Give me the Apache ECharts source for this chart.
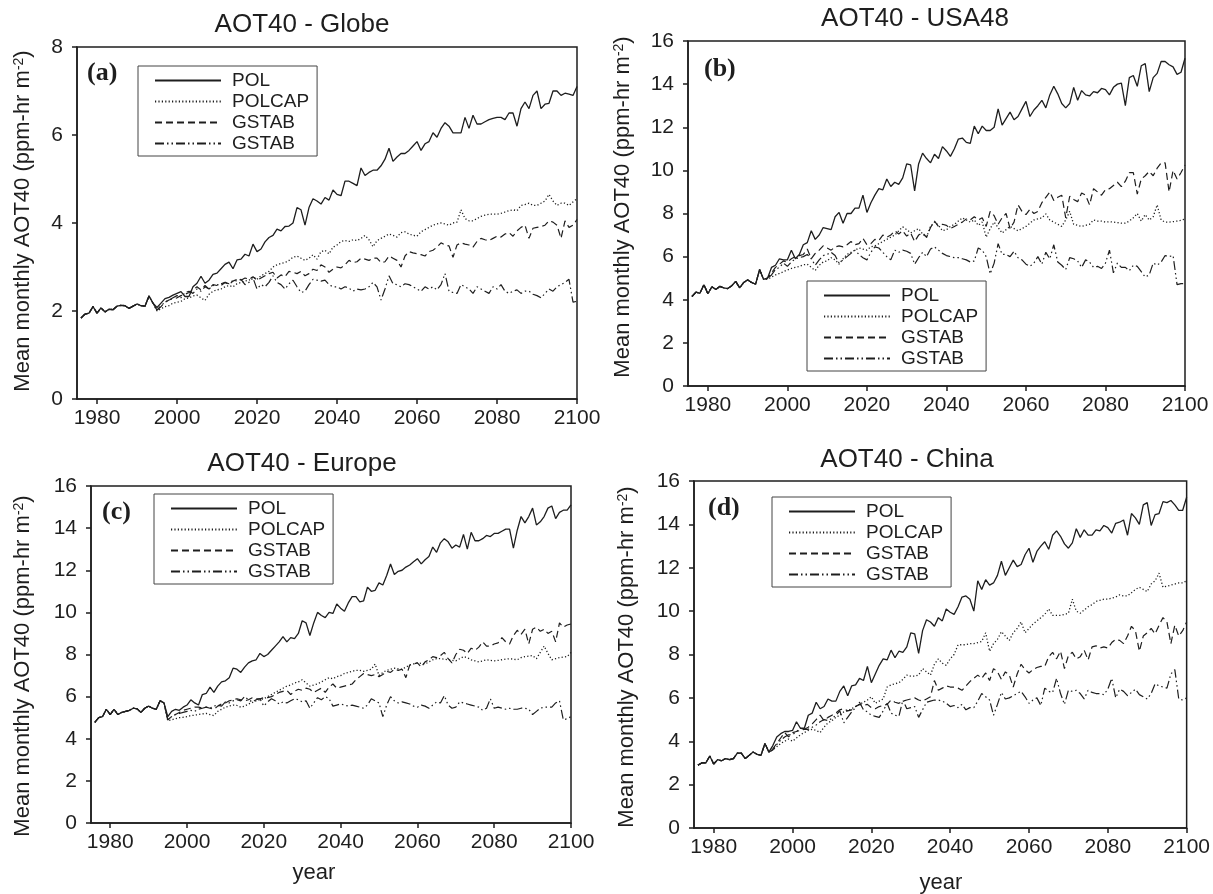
<!DOCTYPE html>
<html>
<head>
<meta charset="utf-8">
<script src="https://cdn.jsdelivr.net/npm/echarts@6/dist/echarts.min.js"></script>
<style>
html,body{margin:0;padding:0;background:#fff;}
#chart{width:1213px;height:894px;}
</style>
</head>
<body>
<div id="chart"></div>
<script>
// ---------- categories / ticks ----------
const histStartYear = 1976;          // first plotted year (shared history 1976-1994)
const xTicks = [1980, 2000, 2020, 2040, 2060, 2080, 2100];
const seriesNames = ['POL', 'POLCAP', 'GSTAB', 'GSTAB '];
const panelTitles = ['AOT40 - Globe', 'AOT40 - USA48', 'AOT40 - Europe', 'AOT40 - China'];
const panelLetters = ['(a)', '(b)', '(c)', '(d)'];
const yMaxes = [8, 16, 16, 16];

// ---------- (a) Globe ----------
const histGlobe = [1.84,1.93,1.95,2.10,1.95,2.07,1.98,2.04,2.03,2.11,2.13,2.12,2.06,2.11,2.16,2.12,2.11,2.34,2.18];
const polGlobe = [2.08,2.18,2.28,2.31,2.36,
 2.40,2.44,2.33,2.33,2.55,2.63,2.79,2.63,2.70,2.83,
 2.86,2.96,3.06,3.11,2.96,3.16,3.18,3.29,3.25,3.52,
 3.35,3.41,3.57,3.67,3.72,3.86,3.82,3.92,3.93,4.00,
 4.35,4.30,3.95,4.35,4.55,4.50,4.43,4.58,4.52,4.75,
 4.65,4.62,4.95,4.95,4.90,4.85,5.25,5.08,5.15,5.20,
 5.20,5.30,5.45,5.70,5.40,5.50,5.58,5.58,5.65,5.75,
 5.85,5.65,5.80,5.85,6.05,5.95,6.15,6.28,6.20,6.05,
 6.05,6.05,6.40,6.15,6.45,6.25,6.25,6.30,6.35,6.38,
 6.40,6.40,6.35,6.50,6.50,6.20,6.60,6.75,6.60,6.90,
 7.00,6.60,6.70,6.72,7.00,7.00,6.90,6.95,6.93,6.90,
 7.10];
const polcapGlobe = [2.00,2.05,2.10,2.12,2.18,
 2.20,2.22,2.28,2.30,2.34,2.36,2.30,2.24,2.38,2.45,
 2.48,2.50,2.55,2.58,2.55,2.62,2.65,2.68,2.70,2.78,
 2.72,2.80,2.85,2.90,3.00,3.05,3.08,3.10,3.15,3.22,
 3.25,3.20,3.15,3.20,3.28,3.18,3.35,3.38,3.30,3.45,
 3.50,3.58,3.60,3.58,3.62,3.60,3.65,3.72,3.62,3.46,
 3.60,3.65,3.70,3.75,3.72,3.68,3.78,3.80,3.75,3.72,
 3.70,3.80,3.85,3.90,3.95,3.98,4.00,3.98,3.95,4.00,
 4.02,4.30,4.10,4.05,4.05,4.10,4.15,4.18,4.20,4.20,
 4.20,4.22,4.25,4.28,4.30,4.28,4.40,4.42,4.45,4.40,
 4.40,4.45,4.50,4.65,4.50,4.40,4.45,4.45,4.40,4.48,
 4.55];
const gstabGlobe = [2.02,2.10,2.20,2.25,2.28,
 2.30,2.35,2.38,2.42,2.48,2.55,2.48,2.58,2.50,2.60,
 2.58,2.62,2.65,2.60,2.68,2.72,2.70,2.75,2.72,2.78,
 2.70,2.75,2.80,2.85,2.88,2.75,2.82,2.78,2.90,2.88,
 2.85,2.90,2.80,2.85,2.95,2.92,3.05,3.00,2.88,2.95,
 3.00,2.98,3.05,3.15,3.10,3.12,3.20,3.18,3.15,3.20,
 3.20,3.10,3.12,3.25,3.20,3.15,3.00,3.25,3.35,3.32,
 3.30,3.28,3.25,3.35,3.38,3.45,3.55,3.50,3.48,3.22,
 3.50,3.55,3.52,3.50,3.45,3.58,3.65,3.62,3.60,3.65,
 3.70,3.68,3.75,3.78,3.70,3.82,3.90,3.95,3.65,3.88,
 3.90,3.92,3.95,4.05,4.02,3.95,3.65,4.05,3.90,3.95,
 4.08];
const gstab2Globe = [2.02,2.12,2.20,2.25,2.30,
 2.35,2.30,2.42,2.45,2.40,2.50,2.45,2.55,2.50,2.58,
 2.60,2.58,2.65,2.62,2.70,2.68,2.72,2.60,2.65,2.75,
 2.50,2.60,2.55,2.65,2.80,2.65,2.60,2.50,2.62,2.70,
 2.55,2.42,2.45,2.60,2.72,2.70,2.68,2.70,2.60,2.55,
 2.55,2.50,2.55,2.52,2.45,2.50,2.48,2.50,2.55,2.65,
 2.55,2.25,2.50,2.80,2.62,2.60,2.55,2.62,2.60,2.55,
 2.50,2.45,2.55,2.50,2.55,2.48,2.60,2.85,2.45,2.42,
 2.40,2.60,2.55,2.50,2.40,2.55,2.50,2.45,2.40,2.55,
 2.50,2.60,2.45,2.40,2.45,2.48,2.40,2.45,2.45,2.38,
 2.35,2.30,2.40,2.50,2.45,2.55,2.60,2.65,2.72,2.20,
 2.22];

// ---------- (b) USA48 ----------
const histUSA = [4.15,4.35,4.30,4.70,4.28,4.60,4.48,4.62,4.55,4.52,4.65,4.85,4.55,4.80,4.92,4.80,4.72,5.40,4.95];
const polUSA = [5.00,5.50,5.60,5.90,5.85,
 5.85,6.30,5.90,6.10,6.55,6.65,7.20,6.80,7.00,7.35,
 7.30,7.25,7.85,8.05,7.55,8.00,8.00,8.25,8.25,8.85,
 8.05,8.50,8.85,9.15,9.10,9.60,9.25,9.45,9.35,9.65,
 10.30,10.25,9.05,10.30,10.80,10.55,10.35,10.75,10.55,11.10,
 10.90,10.65,11.00,11.45,11.50,11.30,11.25,12.05,11.70,12.05,
 11.85,11.85,12.00,12.85,12.10,12.40,12.70,12.35,12.50,12.85,
 13.20,12.50,12.80,13.00,13.25,12.90,13.50,13.90,13.55,13.10,
 12.90,13.10,13.85,13.25,13.70,13.50,13.45,13.65,13.60,13.80,
 13.75,13.50,13.85,14.00,14.05,13.00,14.30,14.40,13.90,14.85,
 14.95,13.65,14.30,14.50,15.05,15.05,14.90,14.80,14.45,14.55,
 15.20];
const polcapUSA = [4.95,5.05,5.15,5.22,5.30,
 5.38,5.45,5.50,5.55,5.62,5.65,5.50,5.36,5.60,5.75,
 5.80,5.95,5.85,5.65,5.90,6.10,6.20,6.30,6.40,6.35,
 6.30,6.45,6.50,6.60,6.70,6.80,6.90,7.00,7.20,7.38,
 7.25,7.10,7.20,7.30,7.05,6.90,7.40,7.60,7.45,7.20,
 7.25,7.40,7.50,7.65,7.80,7.70,7.60,7.70,7.45,7.60,
 6.90,7.30,7.60,7.35,7.10,7.25,7.40,7.30,7.20,7.30,
 7.40,7.55,7.70,7.75,7.80,7.98,7.70,7.60,7.50,7.40,
 7.70,8.10,7.50,7.45,7.40,7.45,7.50,7.70,7.65,7.65,
 7.60,7.62,7.60,7.58,7.55,7.55,7.65,7.80,8.00,7.65,
 7.95,7.70,7.85,8.40,7.70,7.60,7.60,7.62,7.65,7.68,
 7.75];
const gstabUSA = [5.00,5.25,5.50,5.65,5.80,
 5.75,5.90,6.00,6.05,6.10,6.35,5.90,6.15,6.30,6.50,
 6.40,6.30,6.45,6.50,6.45,6.55,6.70,6.55,6.60,6.85,
 6.55,6.60,6.80,6.75,7.00,6.90,7.00,7.20,7.05,7.20,
 6.95,7.10,6.70,7.00,7.10,6.90,7.35,7.65,7.40,7.50,
 7.45,7.30,7.40,7.50,7.60,7.75,7.70,7.85,7.70,7.80,
 7.40,8.10,7.90,7.50,7.80,8.00,7.30,7.60,8.40,8.10,
 7.95,8.20,8.00,8.10,8.50,8.75,9.00,8.60,8.75,8.85,
 7.80,8.80,8.65,8.55,8.95,8.85,8.40,9.15,9.00,8.85,
 9.10,9.15,9.30,9.45,9.25,9.50,9.90,9.90,8.90,9.60,
 9.75,9.95,9.75,10.10,10.35,10.35,9.00,10.00,9.60,9.90,
 10.25];
const gstab2USA = [5.00,5.15,5.40,5.50,5.70,
 5.55,5.75,5.90,5.95,6.00,6.10,5.90,5.60,5.85,6.05,
 6.10,6.20,6.05,5.70,5.85,6.00,6.15,6.30,6.10,5.95,
 5.85,6.20,6.45,6.40,6.20,6.00,5.85,6.30,6.20,6.30,
 6.25,6.15,5.65,5.95,6.20,6.00,6.35,6.45,6.30,6.15,
 6.05,6.00,5.95,5.95,5.90,5.85,5.75,5.80,6.40,6.30,
 6.00,5.20,5.70,6.60,6.10,6.10,6.00,6.25,5.95,5.85,
 5.65,5.55,5.70,6.00,5.65,6.20,5.90,6.55,5.75,5.60,
 5.40,5.95,5.90,5.80,5.50,5.85,5.75,5.50,5.55,5.45,
 5.70,6.30,5.25,5.70,5.50,5.50,5.35,5.60,5.55,5.30,
 5.05,5.15,5.70,5.60,5.75,6.05,6.00,6.05,4.70,4.75,
 4.75];

// ---------- (c) Europe ----------
const histEurope = [4.78,5.00,5.05,5.40,5.15,5.40,5.15,5.25,5.30,5.35,5.45,5.42,5.25,5.45,5.55,5.45,5.40,5.80,5.70];
const polEurope = [5.05,5.30,5.40,5.35,5.50,
 5.60,5.85,5.70,5.60,6.10,6.15,6.45,6.20,6.50,6.70,
 6.75,6.90,7.35,7.30,7.15,7.40,7.60,7.70,7.75,8.05,
 7.90,8.00,8.20,8.40,8.60,8.85,8.60,8.80,8.75,9.00,
 9.60,9.50,8.90,9.50,10.00,9.85,9.75,10.00,9.95,10.40,
 10.20,10.05,10.45,10.75,10.75,10.50,10.55,11.20,11.00,11.05,
 11.40,11.30,11.75,12.30,11.80,11.95,12.00,12.15,12.25,12.40,
 12.55,12.30,12.50,12.65,13.10,12.85,13.30,13.50,13.35,13.05,
 13.20,13.10,13.70,13.00,13.80,13.40,13.40,13.50,13.65,13.60,
 13.75,13.75,13.85,13.95,13.95,13.05,13.90,14.55,14.25,14.55,
 14.95,14.15,14.30,14.55,14.95,15.05,14.45,14.75,14.85,14.85,
 15.10];
const polcapEurope = [4.85,4.90,4.95,5.00,5.02,
 5.05,5.10,5.12,5.15,5.18,5.20,5.15,5.10,5.30,5.40,
 5.50,5.55,5.60,5.58,5.50,5.55,5.65,5.72,5.80,5.85,
 5.90,6.00,6.10,6.20,6.30,6.40,6.50,6.55,6.65,6.70,
 6.80,6.65,6.50,6.55,6.60,6.70,6.80,6.90,6.85,6.95,
 7.00,7.10,7.15,7.20,7.25,7.25,7.20,7.25,7.30,7.55,
 7.00,7.15,7.25,7.30,7.35,7.32,7.30,7.40,7.50,7.55,
 7.60,7.58,7.55,7.65,7.75,7.80,7.80,7.78,7.75,7.72,
 7.70,7.80,7.90,7.85,7.75,7.70,7.65,7.70,7.75,7.72,
 7.70,7.72,7.75,7.78,7.80,7.78,7.75,7.85,7.90,7.92,
 7.95,7.80,8.10,8.40,8.05,7.75,7.80,7.85,7.88,7.90,
 8.10];
const gstabEurope = [4.90,5.05,5.15,5.25,5.35,
 5.40,5.45,5.50,5.50,5.45,5.50,5.45,5.40,5.55,5.65,
 5.70,5.80,5.85,5.90,5.85,5.80,5.85,5.95,5.90,5.90,
 5.95,5.95,6.00,6.10,6.20,6.25,6.30,6.10,6.25,6.35,
 6.30,6.40,6.35,6.20,6.30,6.40,6.20,6.45,6.60,6.40,
 6.45,6.50,6.55,6.60,6.80,6.95,7.10,7.05,7.00,7.05,
 6.95,7.05,7.20,7.15,7.30,7.25,7.30,6.90,7.50,7.55,
 7.60,7.40,7.65,7.75,7.90,7.85,7.95,8.10,7.80,7.60,
 8.00,8.25,8.20,8.05,8.30,8.20,8.35,8.60,8.40,8.40,
 8.50,8.55,8.80,8.60,8.50,8.90,9.15,8.95,9.20,8.50,
 9.20,9.30,9.10,9.20,9.00,9.10,8.60,9.50,9.30,9.40,
 9.45];
const gstab2Europe = [4.90,5.05,5.15,5.20,5.25,
 5.30,5.35,5.30,5.40,5.45,5.50,5.45,5.55,5.60,5.55,
 5.75,5.70,5.80,5.85,5.80,6.00,5.85,5.75,5.85,5.90,
 5.55,5.75,5.90,5.80,5.65,5.75,5.70,5.80,5.90,5.85,
 5.75,5.80,5.45,5.70,5.95,5.85,6.00,5.90,5.55,5.60,
 5.65,5.60,5.55,5.60,5.55,5.50,5.45,5.60,5.90,5.80,
 5.70,5.05,5.60,6.00,5.80,5.70,5.75,5.70,5.65,5.55,
 5.50,5.60,5.55,5.45,5.60,5.75,5.70,6.05,5.60,5.45,
 5.50,5.75,5.70,5.65,5.60,5.55,5.50,5.35,5.45,5.90,
 5.45,5.50,5.45,5.40,5.45,5.40,5.40,5.45,5.45,5.40,
 5.15,5.30,5.45,5.50,5.50,5.50,5.70,5.80,4.90,4.95,
 5.05];

// ---------- (d) China ----------
const histChina = [2.90,3.00,3.00,3.32,2.95,3.15,3.10,3.20,3.15,3.20,3.45,3.45,3.20,3.35,3.50,3.40,3.35,3.90,3.50];
const polChina = [3.80,4.20,4.35,4.45,4.45,
 4.50,4.90,4.60,4.60,5.20,5.30,5.80,5.50,5.60,5.95,
 5.85,5.85,6.30,6.55,6.10,6.55,6.60,6.90,6.80,7.45,
 6.70,7.10,7.50,7.80,7.75,8.20,7.85,8.15,8.10,8.35,
 9.00,8.95,8.05,9.10,9.60,9.50,9.30,9.70,9.55,10.10,
 9.95,9.85,10.20,10.65,10.70,10.55,10.00,11.40,11.00,11.45,
 11.20,11.30,11.65,12.30,11.65,12.00,12.35,12.05,12.15,12.60,
 12.90,12.25,12.75,13.00,13.20,12.85,13.50,13.70,13.45,13.10,
 12.90,13.15,13.80,13.40,13.75,13.50,13.50,13.75,13.70,13.95,
 13.85,13.60,14.05,14.10,14.20,13.50,14.50,14.30,14.00,14.90,
 15.00,13.95,14.45,14.50,15.05,15.00,15.10,14.90,14.65,14.65,
 15.25];
const polcapChina = [3.60,3.75,3.90,4.00,4.10,
 4.00,4.15,4.30,4.40,4.50,4.55,4.50,4.40,4.65,4.85,
 4.95,5.10,5.20,5.35,5.40,5.50,5.60,5.70,5.80,5.90,
 6.05,5.75,5.85,5.95,6.50,6.60,6.65,6.70,6.85,7.05,
 7.00,7.00,7.05,7.35,7.20,7.05,7.55,7.80,7.60,7.50,
 7.80,8.00,8.45,8.45,8.45,8.50,8.50,8.55,8.60,9.00,
 8.15,8.50,8.70,9.05,8.85,8.65,9.00,9.20,9.50,9.00,
 9.20,9.40,9.55,9.70,9.85,10.10,9.80,9.80,9.80,9.85,
 9.90,10.55,10.00,9.90,10.05,10.20,10.30,10.45,10.50,10.55,
 10.55,10.60,10.65,10.75,10.70,10.70,10.85,11.00,11.10,11.00,
 10.90,11.25,11.40,11.75,11.10,11.15,11.20,11.25,11.30,11.30,
 11.40];
const gstabChina = [3.65,3.90,4.15,4.40,4.20,
 4.40,4.45,4.50,4.55,4.65,4.80,5.00,5.20,4.95,5.10,
 5.20,5.30,5.45,5.50,5.40,5.45,5.60,5.70,5.65,5.70,
 5.55,5.50,5.60,5.65,5.70,5.90,5.80,5.75,5.85,5.90,
 5.95,6.00,5.90,5.85,5.95,6.05,6.80,6.35,6.45,6.55,
 6.50,6.50,6.45,6.35,6.55,6.75,6.90,7.05,6.90,7.15,
 6.80,7.35,7.20,6.85,7.20,7.05,6.50,7.10,7.55,7.30,
 7.15,7.30,7.40,7.45,7.45,7.90,8.10,7.80,8.15,7.35,
 7.95,8.10,7.80,7.90,8.20,7.75,8.35,8.40,8.30,8.35,
 8.30,8.55,8.70,8.65,8.50,8.85,9.30,9.10,8.15,8.85,
 9.00,9.20,8.95,9.35,9.70,9.50,8.50,9.35,8.85,9.10,
 9.50];
const gstab2China = [3.60,3.85,4.05,4.20,4.30,
 4.30,4.45,4.60,4.55,4.55,4.65,4.75,4.90,5.00,4.95,
 5.05,5.20,5.40,4.85,5.10,5.35,5.55,5.80,5.45,5.35,
 5.20,5.15,5.10,5.40,5.75,5.30,5.20,5.15,5.90,5.50,
 5.55,5.60,5.10,5.45,5.80,5.85,5.90,5.90,5.85,5.75,
 5.60,5.65,5.55,5.70,5.45,5.55,5.55,5.85,6.20,6.05,
 5.90,5.20,5.70,6.25,5.95,6.00,6.10,6.20,6.30,6.05,
 5.75,5.90,6.00,5.65,6.45,6.30,6.25,6.90,6.20,5.70,
 6.35,6.30,6.35,6.20,5.95,6.35,6.25,6.20,6.20,6.15,
 6.40,6.90,6.00,6.40,6.30,6.10,6.25,6.40,6.15,6.05,
 5.95,6.20,6.65,6.55,6.50,6.45,7.10,7.30,5.95,5.90,
 6.00];

// ---------- assembly ----------
const panels = [
  {hist: histGlobe,  scen: [polGlobe,  polcapGlobe,  gstabGlobe,  gstab2Globe]},
  {hist: histUSA,    scen: [polUSA,    polcapUSA,    gstabUSA,    gstab2USA]},
  {hist: histEurope, scen: [polEurope, polcapEurope, gstabEurope, gstab2Europe]},
  {hist: histChina,  scen: [polChina,  polcapChina,  gstabChina,  gstab2China]}
];

const FONT = '"Liberation Sans", Arial, Helvetica, sans-serif';
const INK = '#1e1e1e';

// layout (pixels)
const grids = [
  {left: 77,  top: 47,  width: 500, height: 352},
  {left: 688, top: 41,  width: 497, height: 345},
  {left: 91,  top: 486, width: 480, height: 337},
  {left: 694, top: 481, width: 494, height: 347}
];
const legendBoxes = [
  {left: 138, top: 66},
  {left: 807, top: 281},
  {left: 154, top: 494},
  {left: 772, top: 497}
];
const titlePos = [[302, 25], [915, 19], [302, 464], [907, 460]];
const letterPos = [[87, 73], [704, 69], [102, 512], [708, 508]];
const yNamePos = [[23, 221], [623, 207], [23, 666], [627, 657]];
const lineStyles = [
  {type: 'solid', width: 1.3},
  {type: [1.2, 2.2], width: 1.3},
  {type: [7, 4], width: 1.2},
  {type: [9, 3, 1.5, 3, 1.5, 3], width: 1.2}
];

function buildData(hist, scen) {
  const vals = hist.concat(scen);
  return vals.map((v, i) => [histStartYear + i, v]);
}

const option = {
  animation: false,
  backgroundColor: '#fff',
  grid: grids.map(g => ({
    left: g.left, top: g.top, width: g.width, height: g.height,
    show: true, borderColor: INK, borderWidth: 1.5, containLabel: false
  })),
  xAxis: grids.map((g, i) => ({
    gridIndex: i, type: 'value', min: 1975, max: 2100,
    axisLine: {show: true, onZero: false, lineStyle: {color: INK, width: 1.5}},
    axisTick: {show: true, inside: false, length: 5, customValues: xTicks, lineStyle: {color: INK, width: 1.5}},
    axisLabel: {customValues: xTicks, fontSize: 21, color: INK, fontFamily: FONT, margin: 9,
      formatter: v => String(v)},
    splitLine: {show: false}
  })),
  yAxis: grids.map((g, i) => ({
    gridIndex: i, type: 'value', min: 0, max: yMaxes[i], interval: 2,
    axisLine: {show: true, onZero: false, lineStyle: {color: INK, width: 1.5}},
    axisTick: {show: true, inside: false, length: 5, lineStyle: {color: INK, width: 1.5}},
    axisLabel: {fontSize: 21, color: INK, fontFamily: FONT, margin: 14},
    splitLine: {show: false}
  })),
  legend: legendBoxes.map((b, i) => ({
    left: b.left, top: b.top, orient: 'vertical',
    data: seriesNames.slice(),
    selectedMode: false,
    itemWidth: 66, itemHeight: 14, itemGap: 2,
    padding: [5, 8, 3, 16],
    borderColor: '#444', borderWidth: 1,
    itemStyle: {opacity: 0, borderWidth: 0},
    formatter: name => name.trim(),
    textStyle: {fontSize: 19, color: INK, fontFamily: FONT, lineHeight: 19, padding: [0, 0, 0, 6]}
  })),
  series: [],
  graphic: []
};

panels.forEach((p, pi) => {
  p.scen.forEach((s, si) => {
    option.series.push({
      name: seriesNames[si],
      type: 'line',
      xAxisIndex: pi, yAxisIndex: pi,
      symbol: 'none', showSymbol: false,
      silent: true,
      z: 10 - si,
      lineStyle: {color: INK, width: lineStyles[si].width, type: lineStyles[si].type},
      itemStyle: {color: INK},
      data: buildData(p.hist, s)
    });
  });
});

panelTitles.forEach((t, i) => {
  option.graphic.push({
    type: 'text', x: titlePos[i][0], y: titlePos[i][1], silent: true,
    style: {text: t, font: '26px ' + FONT, fill: INK,
      textAlign: 'center', textVerticalAlign: 'middle', align: 'center', verticalAlign: 'middle'}
  });
  option.graphic.push({
    type: 'text', x: letterPos[i][0], y: letterPos[i][1], silent: true,
    style: {text: panelLetters[i], font: 'bold 26px "Liberation Serif", "Times New Roman", serif', fill: INK,
      textAlign: 'left', textVerticalAlign: 'middle', align: 'left', verticalAlign: 'middle'}
  });
  option.graphic.push({
    type: 'text', x: yNamePos[i][0], y: yNamePos[i][1], rotation: Math.PI / 2, silent: true,
    style: {text: 'Mean monthly AOT40 (ppm-hr m{sup|-2})', font: '22px ' + FONT, fill: INK,
      textAlign: 'center', textVerticalAlign: 'middle', align: 'center', verticalAlign: 'middle',
      rich: {sup: {fontSize: 14, fontFamily: FONT, fill: INK, verticalAlign: 'top', padding: [0, 0, 8, 0]}}}
  });
});
[[314, 873], [941, 883]].forEach(pos => {
  option.graphic.push({
    type: 'text', x: pos[0], y: pos[1], silent: true,
    style: {text: 'year', font: '22px ' + FONT, fill: INK,
      textAlign: 'center', textVerticalAlign: 'middle', align: 'center', verticalAlign: 'middle'}
  });
});

const chart = echarts.init(document.getElementById('chart'), null, {renderer: 'canvas'});
chart.setOption(option);
</script>
</body>
</html>
